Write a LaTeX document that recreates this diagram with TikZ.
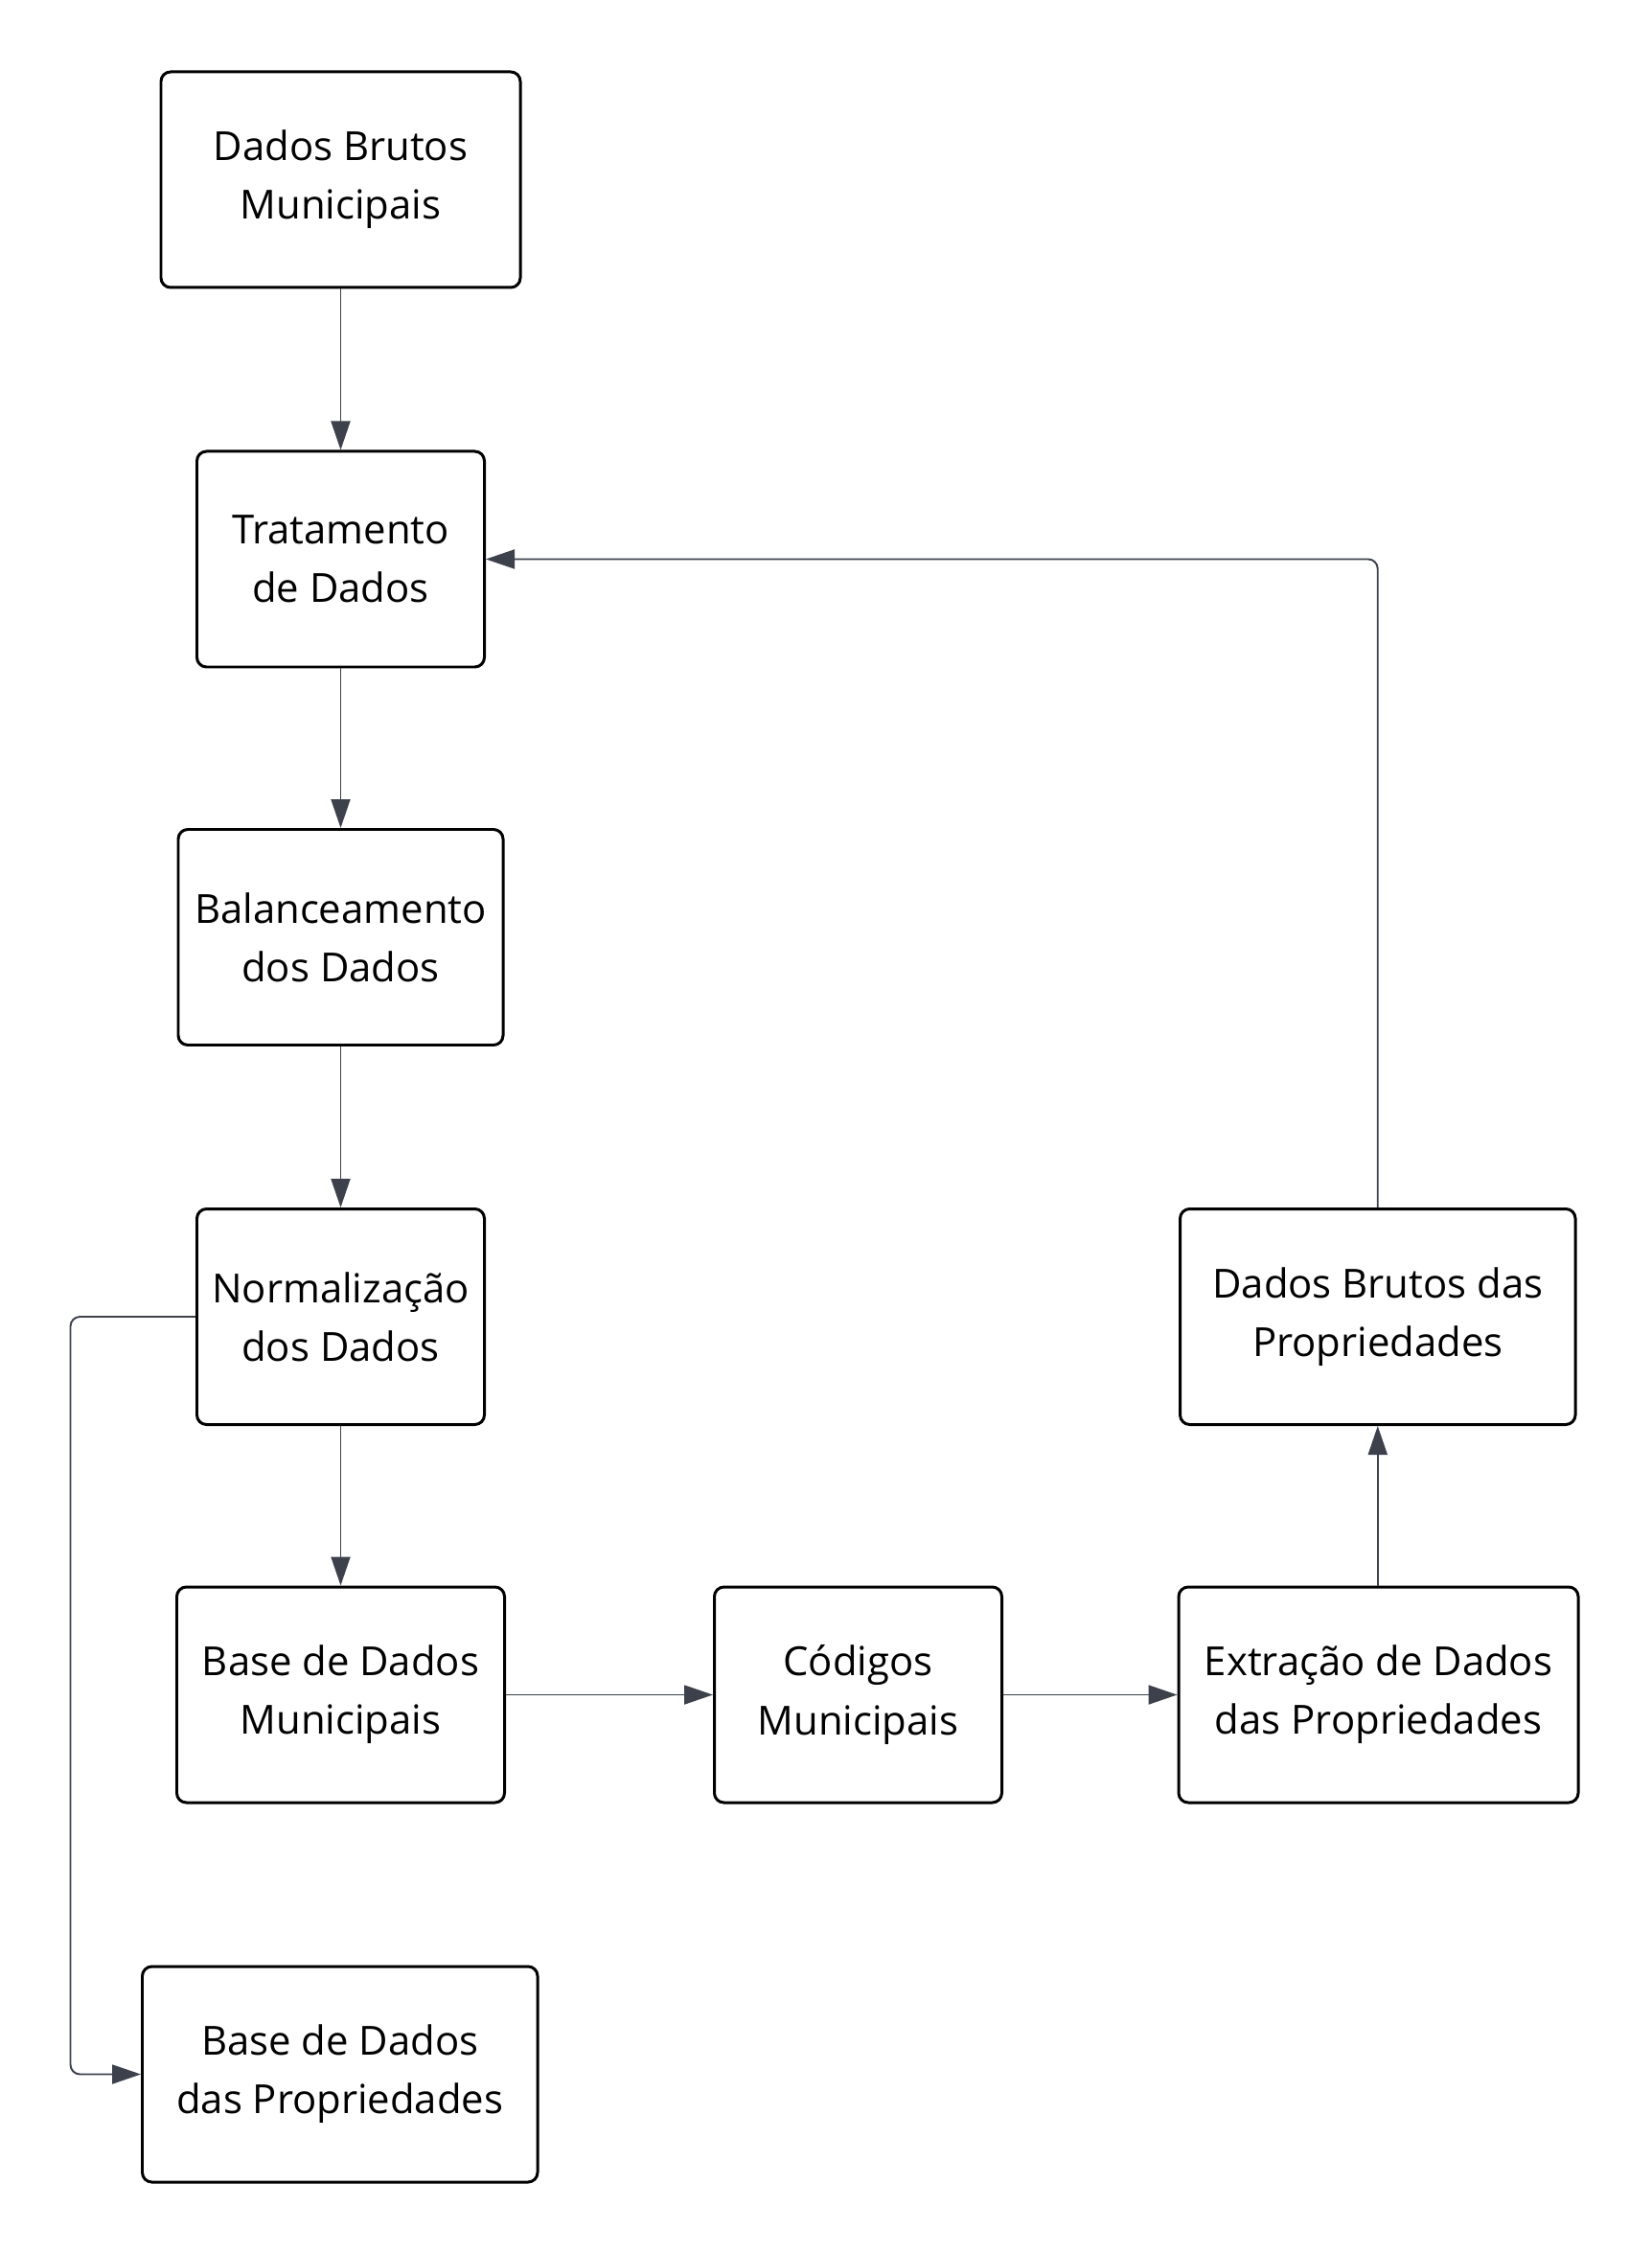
\documentclass[tikz,border=0pt]{standalone}
\usepackage{fontspec}
\setmainfont{Open Sans}
\usetikzlibrary{arrows.meta,positioning}
\definecolor{boxbdr}{RGB}{0,0,0}
\definecolor{boxfill}{RGB}{255,255,255}
\definecolor{lnclr}{RGB}{60,65,76}
\definecolor{txtclr}{RGB}{0,0,0}
\newcommand{\twoln}[2]{\raisebox{-1.5pt}{#1}\\\raisebox{-1.5pt}{#2}}
\tikzset{
  %% process block
  pblk/.style={rectangle,rounded corners=0.1cm,draw=boxbdr,fill=boxfill,
    line width=0.85pt,minimum width=3.0cm,minimum height=2.25cm,
    font=\fontsize{11.9}{17.4}\selectfont,align=center,text=txtclr,inner sep=2pt},
  %% arrows
  arr/.style={-{Triangle[length=0.3cm,width=0.2cm]},line width=0.55pt,color=lnclr,
    rounded corners=0.1cm},
}
\begin{document}
\begin{tikzpicture}
  \useasboundingbox (0,0) rectangle (17.23,-23.51);
  %% left column
  \node[pblk,minimum width=3.75cm] (brutmun) at (3.555,-1.875) {\twoln{Dados Brutos}{Municipais}};
  \node[pblk] (trat) at (3.555,-5.835) {\twoln{Tratamento}{de Dados}};
  \node[pblk,minimum width=3.39cm] (balan) at (3.555,-9.78) {\twoln{Balanceamento}{dos Dados}};
  \node[pblk] (norm) at (3.555,-13.74) {\twoln{Normalização}{dos Dados}};
  \node[pblk,minimum width=3.42cm] (basemun) at (3.555,-17.685) {\twoln{Base de Dados}{Municipais}};
  \node[pblk,minimum width=4.125cm] (baseprop) at (3.5475,-21.645) {\twoln{Base de Dados}{das Propriedades}};
  %% bottom row and right column
  \node[pblk] (codmun) at (8.955,-17.685) {\twoln{Códigos}{Municipais}};
  \node[pblk,minimum width=4.17cm] (extr) at (14.385,-17.685) {\twoln{Extração de Dados}{das Propriedades}};
  \node[pblk,minimum width=4.125cm] (brutprop) at (14.3775,-13.74) {\twoln{Dados Brutos das}{Propriedades}};
  %% connectors
  \draw[arr] (brutmun) -- (trat);
  \draw[arr] (trat) -- (balan);
  \draw[arr] (balan) -- (norm);
  \draw[arr] (norm) -- (basemun);
  \draw[arr] (basemun) -- (codmun);
  \draw[arr] (codmun) -- (extr);
  \draw[arr] (extr.north -| brutprop.south) -- (brutprop.south);
  \draw[arr] (brutprop.north) |- (trat.east);
  \draw[arr] (norm.west) -- ([xshift=-1.305cm]norm.west) |- (baseprop.west);
\end{tikzpicture}
\end{document}
